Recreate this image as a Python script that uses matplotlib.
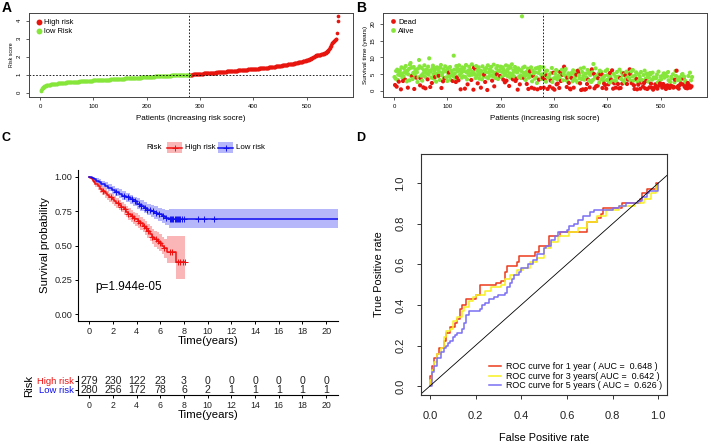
import numpy as np
import matplotlib
matplotlib.use("Agg")
import matplotlib.pyplot as plt
from matplotlib.lines import Line2D
from matplotlib.patches import Rectangle

plt.rcParams['font.family'] = ['Liberation Sans', 'DejaVu Sans']

W, H = 708, 446
CUTOFF = 280  # patients 1..280 are low risk

# ---- panel A: sorted risk scores -------------------------------------------
risk_score = [
    0.10, 0.16, 0.21, 0.25, 0.28, 0.31, 0.33, 0.35, 0.37, 0.38,
    0.39, 0.40, 0.41, 0.42, 0.43, 0.43, 0.44, 0.45, 0.45, 0.46,
    0.46, 0.47, 0.47, 0.48, 0.48, 0.49, 0.49, 0.49, 0.50, 0.50,
    0.51, 0.51, 0.52, 0.52, 0.52, 0.53, 0.53, 0.53, 0.54, 0.54,
    0.54, 0.55, 0.55, 0.55, 0.55, 0.56, 0.56, 0.56, 0.57, 0.57,
    0.57, 0.57, 0.58, 0.58, 0.58, 0.58, 0.59, 0.59, 0.59, 0.59,
    0.60, 0.60, 0.60, 0.60, 0.61, 0.61, 0.61, 0.61, 0.62, 0.62,
    0.62, 0.62, 0.62, 0.63, 0.63, 0.63, 0.63, 0.63, 0.64, 0.64,
    0.64, 0.64, 0.64, 0.65, 0.65, 0.65, 0.65, 0.65, 0.66, 0.66,
    0.66, 0.66, 0.66, 0.67, 0.67, 0.67, 0.67, 0.67, 0.68, 0.68,
    0.68, 0.68, 0.68, 0.69, 0.69, 0.69, 0.69, 0.69, 0.70, 0.70,
    0.70, 0.70, 0.70, 0.71, 0.71, 0.71, 0.71, 0.71, 0.71, 0.72,
    0.72, 0.72, 0.72, 0.72, 0.72, 0.73, 0.73, 0.73, 0.73, 0.73,
    0.73, 0.74, 0.74, 0.74, 0.74, 0.74, 0.74, 0.75, 0.75, 0.75,
    0.75, 0.75, 0.75, 0.76, 0.76, 0.76, 0.76, 0.76, 0.77, 0.77,
    0.77, 0.77, 0.77, 0.78, 0.78, 0.78, 0.78, 0.78, 0.79, 0.79,
    0.79, 0.79, 0.79, 0.80, 0.80, 0.80, 0.80, 0.80, 0.81, 0.81,
    0.81, 0.81, 0.81, 0.82, 0.82, 0.82, 0.82, 0.82, 0.82, 0.83,
    0.83, 0.83, 0.83, 0.83, 0.84, 0.84, 0.84, 0.84, 0.84, 0.85,
    0.85, 0.85, 0.85, 0.85, 0.86, 0.86, 0.86, 0.86, 0.86, 0.87,
    0.87, 0.87, 0.87, 0.87, 0.88, 0.88, 0.88, 0.88, 0.88, 0.89,
    0.89, 0.89, 0.89, 0.89, 0.90, 0.90, 0.90, 0.90, 0.90, 0.91,
    0.91, 0.91, 0.91, 0.91, 0.92, 0.92, 0.92, 0.92, 0.92, 0.93,
    0.93, 0.93, 0.93, 0.93, 0.94, 0.94, 0.94, 0.94, 0.94, 0.95,
    0.95, 0.95, 0.95, 0.95, 0.95, 0.96, 0.96, 0.96, 0.96, 0.96,
    0.96, 0.97, 0.97, 0.97, 0.97, 0.97, 0.97, 0.98, 0.98, 0.98,
    0.98, 0.98, 0.98, 0.98, 0.99, 0.99, 0.99, 0.99, 0.99, 0.99,
    0.99, 0.99, 1.00, 1.00, 1.00, 1.00, 1.00, 1.00, 1.00, 1.00,
    1.00, 1.00, 1.01, 1.01, 1.01, 1.01, 1.02, 1.02, 1.02, 1.02,
    1.03, 1.03, 1.03, 1.03, 1.04, 1.04, 1.04, 1.04, 1.05, 1.05,
    1.05, 1.05, 1.06, 1.06, 1.06, 1.06, 1.07, 1.07, 1.07, 1.07,
    1.08, 1.08, 1.08, 1.08, 1.09, 1.09, 1.09, 1.09, 1.10, 1.10,
    1.10, 1.10, 1.11, 1.11, 1.11, 1.11, 1.12, 1.12, 1.12, 1.12,
    1.13, 1.13, 1.13, 1.13, 1.14, 1.14, 1.14, 1.14, 1.15, 1.15,
    1.15, 1.15, 1.16, 1.16, 1.16, 1.17, 1.17, 1.17, 1.17, 1.18,
    1.18, 1.18, 1.18, 1.19, 1.19, 1.19, 1.20, 1.20, 1.20, 1.20,
    1.21, 1.21, 1.21, 1.22, 1.22, 1.22, 1.22, 1.23, 1.23, 1.23,
    1.24, 1.24, 1.24, 1.24, 1.25, 1.25, 1.25, 1.26, 1.26, 1.26,
    1.26, 1.27, 1.27, 1.27, 1.27, 1.28, 1.28, 1.28, 1.28, 1.29,
    1.29, 1.29, 1.29, 1.30, 1.30, 1.30, 1.30, 1.31, 1.31, 1.31,
    1.31, 1.32, 1.32, 1.32, 1.33, 1.33, 1.33, 1.34, 1.34, 1.34,
    1.35, 1.35, 1.35, 1.36, 1.36, 1.36, 1.37, 1.37, 1.37, 1.38,
    1.38, 1.38, 1.39, 1.39, 1.39, 1.40, 1.40, 1.40, 1.41, 1.41,
    1.41, 1.42, 1.42, 1.43, 1.43, 1.43, 1.44, 1.44, 1.45, 1.45,
    1.45, 1.46, 1.46, 1.47, 1.47, 1.48, 1.48, 1.49, 1.49, 1.50,
    1.50, 1.51, 1.51, 1.52, 1.52, 1.53, 1.53, 1.54, 1.54, 1.55,
    1.55, 1.55, 1.56, 1.56, 1.57, 1.57, 1.58, 1.58, 1.59, 1.59,
    1.60, 1.60, 1.61, 1.61, 1.62, 1.62, 1.63, 1.64, 1.64, 1.65,
    1.66, 1.67, 1.67, 1.68, 1.68, 1.69, 1.70, 1.70, 1.71, 1.72,
    1.72, 1.73, 1.74, 1.75, 1.75, 1.76, 1.77, 1.78, 1.79, 1.80,
    1.81, 1.82, 1.83, 1.84, 1.86, 1.87, 1.88, 1.90, 1.91, 1.93,
    1.95, 1.97, 1.99, 2.01, 2.03, 2.05, 2.06, 2.07, 2.08, 2.09,
    2.10, 2.10, 2.11, 2.11, 2.12, 2.12, 2.13, 2.13, 2.14, 2.15,
    2.16, 2.17, 2.18, 2.19, 2.21, 2.23, 2.25, 2.27, 2.30, 2.34,
    2.38, 2.42, 2.46, 2.52, 2.58, 2.66, 2.74, 2.78, 2.81, 2.84,
    2.87, 2.90, 2.92, 2.95, 2.97, 3.00, 3.30, 3.96, 4.24,
]

# ---- panel B: survival time (years) and status per patient -------------------
surv_time = [
    4.1, 1.7, 3.6, 5.9, 1.2, 6.3, 3.2, 4.8, 2.7, 5.5,
    6.1, 4.6, 0.4, 7.0, 5.1, 3.8, 2.9, 4.3, 6.7, 5.6,
    3.3, 7.4, 5.2, 2.8, 6.0, 0.9, 4.9, 6.5, 3.1, 7.8,
    8.3, 4.4, 6.9, 4.4, 3.5, 5.3, 7.1, 0.5, 4.7, 6.2,
    5.8, 3.9, 5.5, 2.6, 6.6, 4.0, 9.2, 7.3, 1.6, 3.7,
    4.5, 6.8, 3.0, 5.0, 1.0, 6.1, 7.6, 4.2, 0.7, 5.4,
    6.4, 5.2, 3.4, 7.2, 4.8, 9.7, 6.0, 1.1, 5.7, 3.9,
    2.3, 6.6, 7.5, 4.9, 3.6, 5.9, 4.1, 6.8, 2.7, 5.0,
    7.0, 4.3, 6.2, 4.5, 5.6, 3.2, 6.9, 7.7, 0.8, 4.6,
    5.3, 2.8, 6.4, 3.8, 3.7, 7.3, 5.8, 4.0, 6.1, 2.9,
    6.7, 5.0, 5.4, 4.2, 7.1, 3.3, 6.0, 5.7, 4.8, 2.9,
    4.4, 10.5, 6.3, 5.1, 3.6, 2.6, 7.4, 4.0, 5.8, 6.5,
    3.1, 7.6, 4.7, 6.2, 0.4, 5.3, 3.9, 7.0, 6.6, 4.3,
    5.9, 6.8, 0.6, 4.1, 7.7, 5.5, 3.4, 1.9, 6.0, 4.9,
    7.2, 4.6, 6.3, 5.2, 3.2, 7.9, 4.8, 5.6, 0.3, 6.9,
    5.0, 6.6, 3.8, 7.4, 4.4, 6.1, 2.2, 5.3, 7.0, 3.6,
    4.7, 6.0, 0.9, 5.8, 3.4, 7.3, 5.1, 4.2, 4.8, 6.4,
    2.6, 5.6, 6.8, 4.0, 0.2, 7.6, 3.7, 5.4, 6.3, 4.5,
    6.1, 7.1, 4.6, 3.0, 5.7, 4.3, 7.8, 1.3, 5.2, 3.8,
    5.4, 6.7, 4.9, 7.4, 3.5, 6.0, 4.2, 5.9, 4.4, 7.2,
    6.8, 4.0, 5.5, 7.0, 3.3, 6.2, 4.7, 2.5, 5.1, 7.6,
    3.0, 5.8, 4.4, 6.5, 7.3, 1.4, 5.2, 3.9, 6.9, 4.8,
    7.9, 5.0, 3.4, 6.1, 4.3, 5.7, 7.1, 2.9, 6.4, 3.6,
    5.5, 0.3, 6.7, 4.1, 6.3, 1.9, 4.6, 3.8, 5.9, 22.3,
    4.2, 6.9, 5.3, 3.7, 7.2, 4.4, 3.2, 5.6, 2.0, 4.9,
    6.6, 0.5, 3.9, 5.1, 5.8, 4.3, 7.0, 0.9, 2.8, 6.1,
    4.4, 5.2, 0.6, 3.6, 5.5, 6.7, 4.0, 2.3, 0.4, 6.9,
    5.3, 3.3, 6.2, 7.1, 0.8, 4.7, 3.5, 4.9, 3.9, 7.0,
    0.9, 4.6, 3.3, 5.8, 2.7, 4.6, 6.0, 0.5, 3.9, 4.2,
    4.8, 1.2, 3.5, 3.0, 5.3, 6.8, 2.6, 0.7, 5.4, 3.7,
    0.3, 5.1, 4.0, 6.2, 1.9, 3.4, 2.1, 4.4, 5.7, 0.8,
    3.6, 5.6, 2.9, 4.7, 6.3, 4.8, 3.1, 5.0, 7.2, 5.9,
    4.5, 6.5, 3.2, 1.1, 3.9, 2.7, 5.2, 2.3, 4.1, 0.6,
    0.4, 4.9, 3.8, 5.5, 2.8, 6.1, 0.9, 3.4, 5.0, 4.3,
    3.1, 4.8, 5.9, 2.5, 6.0, 5.2, 4.6, 3.7, 2.2, 6.6,
    0.2, 3.5, 5.6, 0.4, 4.4, 6.9, 3.3, 0.3, 5.1, 0.5,
    4.0, 2.0, 6.2, 3.3, 5.3, 3.0, 1.0, 4.7, 5.8, 2.6,
    6.4, 5.5, 3.2, 8.0, 5.0, 0.7, 4.1, 6.7, 1.3, 3.8,
    4.6, 1.5, 3.7, 5.2, 2.4, 6.0, 4.9, 3.4, 5.6, 4.8,
    0.8, 3.9, 2.9, 2.1, 4.4, 1.7, 5.9, 0.6, 3.2, 6.3,
    4.7, 1.9, 3.6, 2.5, 5.3, 4.1, 3.3, 2.6, 6.1, 2.8,
    0.6, 5.0, 2.2, 3.1, 4.3, 0.9, 2.7, 5.6, 3.9, 2.0,
    4.2, 0.7, 6.3, 3.8, 0.8, 3.5, 5.4, 2.1, 4.6, 3.0,
    5.2, 4.8, 2.4, 4.6, 3.6, 5.7, 2.0, 4.0, 3.3, 5.1,
    3.7, 6.4, 5.0, 2.9, 5.8, 2.2, 4.3, 6.2, 3.0, 1.6,
    0.5, 4.5, 3.4, 5.5, 3.5, 0.4, 2.6, 1.8, 4.9, 3.1,
    4.1, 0.6, 5.6, 2.4, 3.2, 2.8, 1.2, 4.7, 2.3, 6.0,
    0.7, 3.6, 2.9, 5.1, 0.5, 4.4, 2.7, 3.9, 1.0, 5.3,
    4.9, 2.1, 0.9, 3.3, 5.4, 0.3, 4.0, 0.8, 3.7, 1.9,
    1.1, 3.8, 4.8, 0.6, 2.5, 5.7, 1.5, 3.0, 2.2, 4.2,
    3.4, 1.8, 0.9, 4.6, 2.0, 5.2, 3.9, 1.4, 5.0, 0.5,
    1.2, 4.3, 1.6, 5.6, 3.1, 1.0, 0.8, 2.6, 1.5, 4.1,
    3.7, 1.3, 4.9, 0.9, 1.1, 2.5, 3.3, 5.9, 4.4, 6.0,
    1.0, 3.2, 1.4, 0.6, 4.0, 1.7, 2.9, 2.1, 3.6, 4.8,
    5.0, 1.9, 3.6, 4.2, 1.2, 3.0, 0.8, 2.4, 1.5, 0.7,
    2.3, 4.4, 1.0, 1.6, 5.4, 0.9, 3.1, 1.3, 4.1,
]
# 1 = dead, 0 = alive (one character per patient)
surv_dead = (
    "0100100010" "0010001000" "1000010000" "0001000100" "0100000011"
    "0000100010" "0010000100" "1000001000" "0001000010" "0100100000"
    "0010000001" "0000010100" "1000100000" "0010000100" "0000100011"
    "0100001000" "0010000010" "1000100000" "0001000100" "0010000010"
    "0000100100" "1000010000" "0010000101" "0100010000" "0001000010"
    "0100100100" "1010000010" "0100100010" "1010010100" "0101000110"
    "1000101001" "0110010010" "0001100101" "1010001000" "0100110010"
    "1001000101" "0101001000" "1000110010" "0110001001" "1001010100"
    "0100101010" "1010010001" "0101100100" "1001001010" "0110010001"
    "1000110100" "0101001010" "1010100010" "0110010101" "1001001010"
    "0110100101" "1010011010" "0101101001" "1011010100" "0110101011"
    "101101010"
)

# ---- panel C: Kaplan-Meier curves --------------------------------------------
risk_groups = ["High risk", "Low risk"]
km_high_t = [0, 0.1, 0.2, 0.3, 0.4, 0.5, 0.7, 0.9, 1.1, 1.3, 1.5, 1.7, 1.9,
             2.1, 2.3, 2.5, 2.7, 2.9, 3.1, 3.3, 3.5, 3.7, 3.9, 4.1, 4.3, 4.5,
             4.7, 4.9, 5.1, 5.3, 5.5, 5.7, 5.9, 6.1, 6.3, 6.6, 7.3]
km_high_s = [1.0, 0.99, 0.98, 0.97, 0.96, 0.95, 0.93, 0.91, 0.895, 0.88,
             0.865, 0.85, 0.84, 0.825, 0.81, 0.795, 0.78, 0.765, 0.745, 0.73,
             0.715, 0.70, 0.69, 0.675, 0.66, 0.645, 0.625, 0.605, 0.585,
             0.565, 0.55, 0.535, 0.52, 0.50, 0.48, 0.45, 0.38]
km_high_lo = [1.0, 0.98, 0.966, 0.953, 0.94, 0.928, 0.905, 0.882, 0.865,
              0.848, 0.832, 0.816, 0.805, 0.789, 0.773, 0.757, 0.741, 0.725,
              0.704, 0.688, 0.672, 0.656, 0.645, 0.629, 0.613, 0.597, 0.575,
              0.553, 0.531, 0.509, 0.492, 0.475, 0.458, 0.435, 0.41, 0.37,
              0.26]
km_high_hi = [1.0, 1.0, 0.994, 0.987, 0.98, 0.972, 0.955, 0.938, 0.925, 0.912,
              0.898, 0.884, 0.875, 0.861, 0.847, 0.833, 0.819, 0.805, 0.786,
              0.772, 0.758, 0.744, 0.735, 0.721, 0.707, 0.693, 0.675, 0.657,
              0.639, 0.621, 0.608, 0.595, 0.582, 0.565, 0.55, 0.57, 0.57]
km_high_end = 8.1
km_high_cens = [1.2, 1.8, 2.4, 2.7, 3.0, 3.3, 3.6, 3.8, 4.1, 4.3, 4.6, 4.8,
                5.0, 5.3, 5.6, 5.8, 6.0, 6.3, 6.8, 7.0, 7.5, 7.7, 7.9, 8.1]

km_low_t = [0, 0.2, 0.4, 0.6, 0.8, 1.0, 1.3, 1.6, 1.9, 2.2, 2.5, 2.8, 3.1,
            3.4, 3.7, 4.0, 4.3, 4.6, 4.9, 5.2, 5.5, 5.8, 6.1, 6.4, 6.7]
km_low_s = [1.0, 0.99, 0.98, 0.97, 0.96, 0.95, 0.935, 0.92, 0.905, 0.89,
            0.875, 0.862, 0.85, 0.835, 0.82, 0.805, 0.79, 0.775, 0.76, 0.748,
            0.738, 0.727, 0.715, 0.703, 0.69]
km_low_lo = [1.0, 0.98, 0.966, 0.953, 0.94, 0.928, 0.91, 0.893, 0.876, 0.859,
             0.843, 0.829, 0.816, 0.80, 0.784, 0.768, 0.751, 0.735, 0.718,
             0.704, 0.692, 0.679, 0.665, 0.65, 0.625]
km_low_hi = [1.0, 1.0, 0.994, 0.987, 0.98, 0.972, 0.96, 0.947, 0.934, 0.921,
             0.907, 0.895, 0.884, 0.87, 0.856, 0.842, 0.829, 0.815, 0.802,
             0.792, 0.784, 0.775, 0.765, 0.758, 0.762]
km_low_end = 21.0
km_low_cens = [2.3, 2.9, 3.3, 3.6, 3.9, 4.2, 4.4, 4.7, 4.9, 5.1, 5.4, 5.6,
               5.9, 6.2, 6.5, 6.8, 6.9, 7.0, 7.1, 7.2, 7.3, 7.4, 7.5, 7.6,
               7.7, 7.8, 8.0, 9.2, 9.7, 10.5]
p_value_text = "p=1.944e-05"

table_times = [0, 2, 4, 6, 8, 10, 12, 14, 16, 18, 20]
high_at_risk = [279, 230, 122, 23, 3, 0, 0, 0, 0, 0, 0]
low_at_risk = [280, 256, 172, 78, 6, 2, 1, 1, 1, 1, 1]

# ---- panel D: time-dependent ROC curves --------------------------------------
roc_labels = ["ROC curve for 1 year ( AUC =  0.648 )",
              "ROC curve for 3 years( AUC =  0.642 )",
              "ROC curve for 5 years ( AUC =  0.626 )"]
roc1_fpr = [0, 0, 0.01, 0.01, 0.02, 0.02, 0.03, 0.04, 0.04, 0.06, 0.06, 0.07,
            0.09, 0.09, 0.11, 0.11, 0.12, 0.13, 0.13, 0.14, 0.14, 0.16, 0.16,
            0.19, 0.20, 0.22, 0.22, 0.28, 0.29, 0.31, 0.31, 0.33, 0.33, 0.34,
            0.34, 0.38, 0.38, 0.39, 0.39, 0.46, 0.46, 0.48, 0.48, 0.51, 0.52,
            0.52, 0.57, 0.57, 0.69, 0.69, 0.72, 0.73, 0.75, 0.76, 0.84, 0.84,
            0.91, 0.92, 0.93, 0.95, 0.95, 0.99, 0.99, 1.0]
roc1_tpr = [0, 0.05, 0.05, 0.10, 0.10, 0.14, 0.16, 0.16, 0.19, 0.19, 0.22,
            0.26, 0.26, 0.29, 0.29, 0.31, 0.33, 0.33, 0.38, 0.38, 0.40, 0.40,
            0.43, 0.43, 0.45, 0.45, 0.50, 0.50, 0.51, 0.51, 0.52, 0.53, 0.56,
            0.56, 0.59, 0.59, 0.61, 0.61, 0.64, 0.64, 0.66, 0.66, 0.69, 0.69,
            0.71, 0.74, 0.74, 0.76, 0.76, 0.81, 0.81, 0.83, 0.85, 0.88, 0.88,
            0.90, 0.90, 0.92, 0.95, 0.95, 0.97, 0.97, 1.0, 1.0]
roc3_fpr = [0, 0, 0.01, 0.01, 0.02, 0.02, 0.03, 0.03, 0.05, 0.05, 0.06, 0.06,
            0.07, 0.07, 0.09, 0.09, 0.10, 0.10, 0.12, 0.12, 0.14, 0.14, 0.15,
            0.15, 0.17, 0.17, 0.19, 0.19, 0.20, 0.20, 0.24, 0.24, 0.27, 0.27,
            0.31, 0.31, 0.32, 0.33, 0.35, 0.35, 0.37, 0.38, 0.41, 0.41, 0.43,
            0.44, 0.46, 0.47, 0.48, 0.50, 0.52, 0.53, 0.55, 0.56, 0.60, 0.61,
            0.64, 0.65, 0.68, 0.69, 0.72, 0.73, 0.76, 0.77, 0.82, 0.83, 0.89,
            0.90, 0.93, 0.94, 0.96, 0.97, 0.98, 0.99, 0.99, 1.0]
roc3_tpr = [0, 0.03, 0.03, 0.08, 0.08, 0.12, 0.12, 0.16, 0.16, 0.19, 0.19,
            0.24, 0.24, 0.27, 0.27, 0.28, 0.28, 0.32, 0.32, 0.34, 0.34, 0.37,
            0.37, 0.39, 0.39, 0.42, 0.42, 0.44, 0.44, 0.45, 0.45, 0.47, 0.47,
            0.49, 0.49, 0.50, 0.50, 0.53, 0.53, 0.55, 0.55, 0.57, 0.57, 0.58,
            0.58, 0.61, 0.61, 0.63, 0.63, 0.68, 0.68, 0.71, 0.71, 0.74, 0.74,
            0.76, 0.76, 0.78, 0.78, 0.81, 0.81, 0.84, 0.84, 0.87, 0.87, 0.89,
            0.89, 0.90, 0.90, 0.92, 0.92, 0.95, 0.95, 0.96, 0.99, 1.0]
roc5_fpr = [0, 0.01, 0.01, 0.02, 0.03, 0.03, 0.05, 0.06, 0.07, 0.08, 0.09,
            0.10, 0.11, 0.12, 0.13, 0.14, 0.15, 0.16, 0.16, 0.17, 0.21, 0.22,
            0.23, 0.24, 0.26, 0.28, 0.30, 0.33, 0.34, 0.35, 0.36, 0.37, 0.39,
            0.40, 0.43, 0.45, 0.47, 0.50, 0.51, 0.53, 0.55, 0.56, 0.58, 0.60,
            0.61, 0.63, 0.65, 0.67, 0.70, 0.72, 0.76, 0.80, 0.83, 0.86, 0.89,
            0.91, 0.93, 0.95, 0.96, 0.98, 1.0]
roc5_tpr = [0, 0.04, 0.07, 0.10, 0.12, 0.14, 0.17, 0.19, 0.20, 0.21, 0.22,
            0.24, 0.25, 0.26, 0.26, 0.28, 0.31, 0.33, 0.35, 0.37, 0.37, 0.38,
            0.40, 0.41, 0.43, 0.44, 0.45, 0.46, 0.49, 0.51, 0.53, 0.55, 0.56,
            0.58, 0.60, 0.62, 0.65, 0.68, 0.69, 0.72, 0.74, 0.76, 0.76, 0.77,
            0.79, 0.80, 0.82, 0.84, 0.86, 0.87, 0.87, 0.88, 0.89, 0.90, 0.90,
            0.91, 0.93, 0.95, 0.96, 0.96, 1.0]

RED = "#E8150F"
GREEN = "#86E63A"
KM_RED = "#F01010"
KM_BLUE = "#1010F0"
ROC_COLORS = ["#EE3A1C", "#F8F020", "#7B6FF2"]


def px_box(left, top, right, bottom):
    return [left / W, 1 - bottom / H, (right - left) / W, (bottom - top) / H]


def base_r_axes(ax, tick_size):
    for s in ax.spines.values():
        s.set_color("#444444")
        s.set_linewidth(0.7)
    ax.tick_params(axis="both", length=2.2, width=0.6, color="#444444",
                   labelsize=tick_size, pad=3)
    for lab in ax.get_yticklabels():
        lab.set_rotation(90)
        lab.set_va("center")


fig = plt.figure(figsize=(W / 100, H / 100), dpi=100)

# ---------------- A ----------------
patients = np.arange(1, len(risk_score) + 1)
score = np.array(risk_score)
low = patients <= CUTOFF
axA = fig.add_axes(px_box(29, 13, 353, 97))
axA.scatter(patients[~low], score[~low], s=7, color=RED, lw=0, label="High risk")
axA.scatter(patients[low], score[low], s=7, color=GREEN, lw=0, label="low Risk")
axA.axvline(CUTOFF, color="black", lw=0.6, ls=(0, (2, 2)))
axA.axhline(score[CUTOFF - 1], color="black", lw=0.6, ls=(0, (2, 2)))
axA.set_xlim(-20.6, 587)
axA.set_ylim(-0.24, 4.43)
axA.set_xticks([0, 100, 200, 300, 400, 500])
axA.set_yticks([0, 1, 2, 3, 4])
base_r_axes(axA, 4.3)
axA.set_xlabel("Patients (increasing risk socre)", fontsize=5.8, labelpad=4)
axA.set_ylabel("Risk score", fontsize=3.8, labelpad=2)
axA.legend(loc="upper left", frameon=False, fontsize=5.4, markerscale=1.6,
           handletextpad=0.1, borderaxespad=0.3, labelspacing=0.3,
           handlelength=1.2)
fig.text(2 / W, 1 - 8 / H, "A", fontsize=10, fontweight="bold", va="center")

# ---------------- B ----------------
times = np.array(surv_time)
dead = np.array([c == "1" for c in surv_dead])
axB = fig.add_axes(px_box(383, 13, 707, 97))
colors = np.where(dead, RED, GREEN)
axB.scatter(patients, times, s=9, c=colors, lw=0)
axB.axvline(CUTOFF, color="black", lw=0.6, ls=(0, (2, 2)))
axB.set_xlim(-20.6, 587)
axB.set_ylim(-1.9, 23.3)
axB.set_xticks([0, 100, 200, 300, 400, 500])
axB.set_yticks([0, 5, 10, 15, 20])
base_r_axes(axB, 4.3)
axB.set_xlabel("Patients (increasing risk socre)", fontsize=5.8, labelpad=4)
axB.set_ylabel("Survival time (years)", fontsize=4.6, labelpad=2)
handlesB = [Line2D([], [], ls="none", marker="o", ms=3.4, color=RED, mew=0),
            Line2D([], [], ls="none", marker="o", ms=3.4, color=GREEN, mew=0)]
axB.legend(handlesB, ["Dead", "Alive"], loc="upper left", frameon=False,
           fontsize=5.4, handletextpad=0.1, borderaxespad=0.3,
           labelspacing=0.3, handlelength=1.2)
fig.text(356 / W, 1 - 8 / H, "B", fontsize=10, fontweight="bold", va="center")

# ---------------- C ----------------
axC = fig.add_axes(px_box(78, 169.8, 338, 321.2))
groups = [(km_high_t, km_high_s, km_high_lo, km_high_hi, km_high_end,
           km_high_cens, KM_RED),
          (km_low_t, km_low_s, km_low_lo, km_low_hi, km_low_end,
           km_low_cens, KM_BLUE)]
for t, s, lo, hi, end, cens, col in groups:
    tt = list(t) + [end]
    axC.fill_between(tt, list(lo) + [lo[-1]], list(hi) + [hi[-1]],
                     step="post", color=col, alpha=0.3, lw=0)
    axC.step(tt, list(s) + [s[-1]], where="post", color=col, lw=1.1)
    idx = np.searchsorted(t, cens, side="right") - 1
    axC.plot(cens, np.array(s)[idx], ls="none", marker="+", ms=4, mew=0.7,
             color=col)
axC.text(0.48, 0.198, p_value_text, fontsize=8.5, va="center", ha="left")
axC.set_xlim(-0.95, 21.0)
axC.set_ylim(-0.05, 1.05)
axC.set_xticks(table_times)
axC.set_yticks([0, 0.25, 0.5, 0.75, 1.0])
axC.set_yticklabels(["0.00", "0.25", "0.50", "0.75", "1.00"])
for side in ["top", "right"]:
    axC.spines[side].set_visible(False)
for side in ["left", "bottom"]:
    axC.spines[side].set_linewidth(0.8)
axC.tick_params(length=2.5, width=0.7, labelsize=6.6, pad=1.5,
                labelcolor="#222222")
axC.set_xlabel("Time(years)", fontsize=8.2, labelpad=0.5)
axC.set_ylabel("Survival probability", fontsize=8.2, labelpad=3)
fig.text(2 / W, 1 - 138 / H, "C", fontsize=9, fontweight="bold", va="center")

# legend for C, above the panel
fig.text(162 / W, 1 - 147.5 / H, "Risk", fontsize=5.8, ha="right", va="center")
for x0, col, lab in [(167, KM_RED, risk_groups[0]), (218, KM_BLUE, risk_groups[1])]:
    fig.add_artist(Rectangle((x0 / W, 1 - 153 / H), 15 / W, 11 / H,
                             transform=fig.transFigure, color=col, alpha=0.3,
                             lw=0))
    fig.add_artist(Line2D([x0 / W, (x0 + 15) / W], [1 - 147.5 / H] * 2,
                          transform=fig.transFigure, color=col, lw=1.1))
    fig.add_artist(Line2D([(x0 + 7.5) / W], [1 - 147.5 / H],
                          transform=fig.transFigure, color=col, marker="+",
                          ms=4, mew=0.7))
    fig.text((x0 + 18) / W, 1 - 147.5 / H, lab, fontsize=5.7, va="center")

# risk table
axT = fig.add_axes(px_box(78, 376, 338, 395))
axT.set_xlim(-0.95, 21.0)
axT.set_ylim(0, 1)
row_y = [0.74, 0.27]
for yy, counts in zip(row_y, [high_at_risk, low_at_risk]):
    for tx, n in zip(table_times, counts):
        axT.text(tx, yy, str(n), ha="center", va="center", fontsize=7.6,
                 color="#222222")
axT.set_xticks(table_times)
axT.set_yticks(row_y)
axT.set_yticklabels(risk_groups)
for lab, col in zip(axT.get_yticklabels(), [KM_RED, KM_BLUE]):
    lab.set_color(col)
for side in ["top", "right"]:
    axT.spines[side].set_visible(False)
for side in ["left", "bottom"]:
    axT.spines[side].set_linewidth(0.8)
axT.tick_params(axis="x", length=2.5, width=0.7, labelsize=6.3, pad=1.5,
                labelcolor="#222222")
axT.tick_params(axis="y", length=2, width=0.7, labelsize=6.8, pad=1)
axT.set_xlabel("Time(years)", fontsize=8.2, labelpad=0.5)
axT.set_ylabel("Risk", fontsize=8.2, labelpad=2)

# ---------------- D ----------------
axD = fig.add_axes(px_box(420.7, 154, 667.3, 395))
for fpr, tpr, col, lab in [(roc1_fpr, roc1_tpr, ROC_COLORS[0], roc_labels[0]),
                           (roc3_fpr, roc3_tpr, ROC_COLORS[1], roc_labels[1]),
                           (roc5_fpr, roc5_tpr, ROC_COLORS[2], roc_labels[2])]:
    axD.plot(fpr, tpr, drawstyle="steps-post", color=col, lw=1.1, label=lab)
axD.plot([-0.1, 1.2], [-0.1, 1.2], color="black", lw=0.6)
axD.set_xlim(-0.04, 1.04)
axD.set_ylim(-0.044, 1.144)
axD.set_xticks([0, 0.2, 0.4, 0.6, 0.8, 1.0])
axD.set_yticks([0, 0.2, 0.4, 0.6, 0.8, 1.0])
for s in axD.spines.values():
    s.set_color("#333333")
    s.set_linewidth(0.8)
axD.tick_params(length=3.2, width=0.7, color="#333333", labelsize=8, pad=8,
                labelcolor="#222222")
for lab in axD.get_yticklabels():
    lab.set_rotation(90)
    lab.set_va("center")
axD.set_xlabel("False Positive rate", fontsize=7.8, labelpad=9)
axD.set_ylabel("True Positive rate", fontsize=7.8, labelpad=8)
axD.legend(loc="lower right", frameon=False, fontsize=6.4, handlelength=1.3,
           handletextpad=0.6, labelspacing=0.05, borderaxespad=0.15)
fig.text(356 / W, 1 - 138 / H, "D", fontsize=9, fontweight="bold", va="center")

fig.savefig("out.png", dpi=100)
